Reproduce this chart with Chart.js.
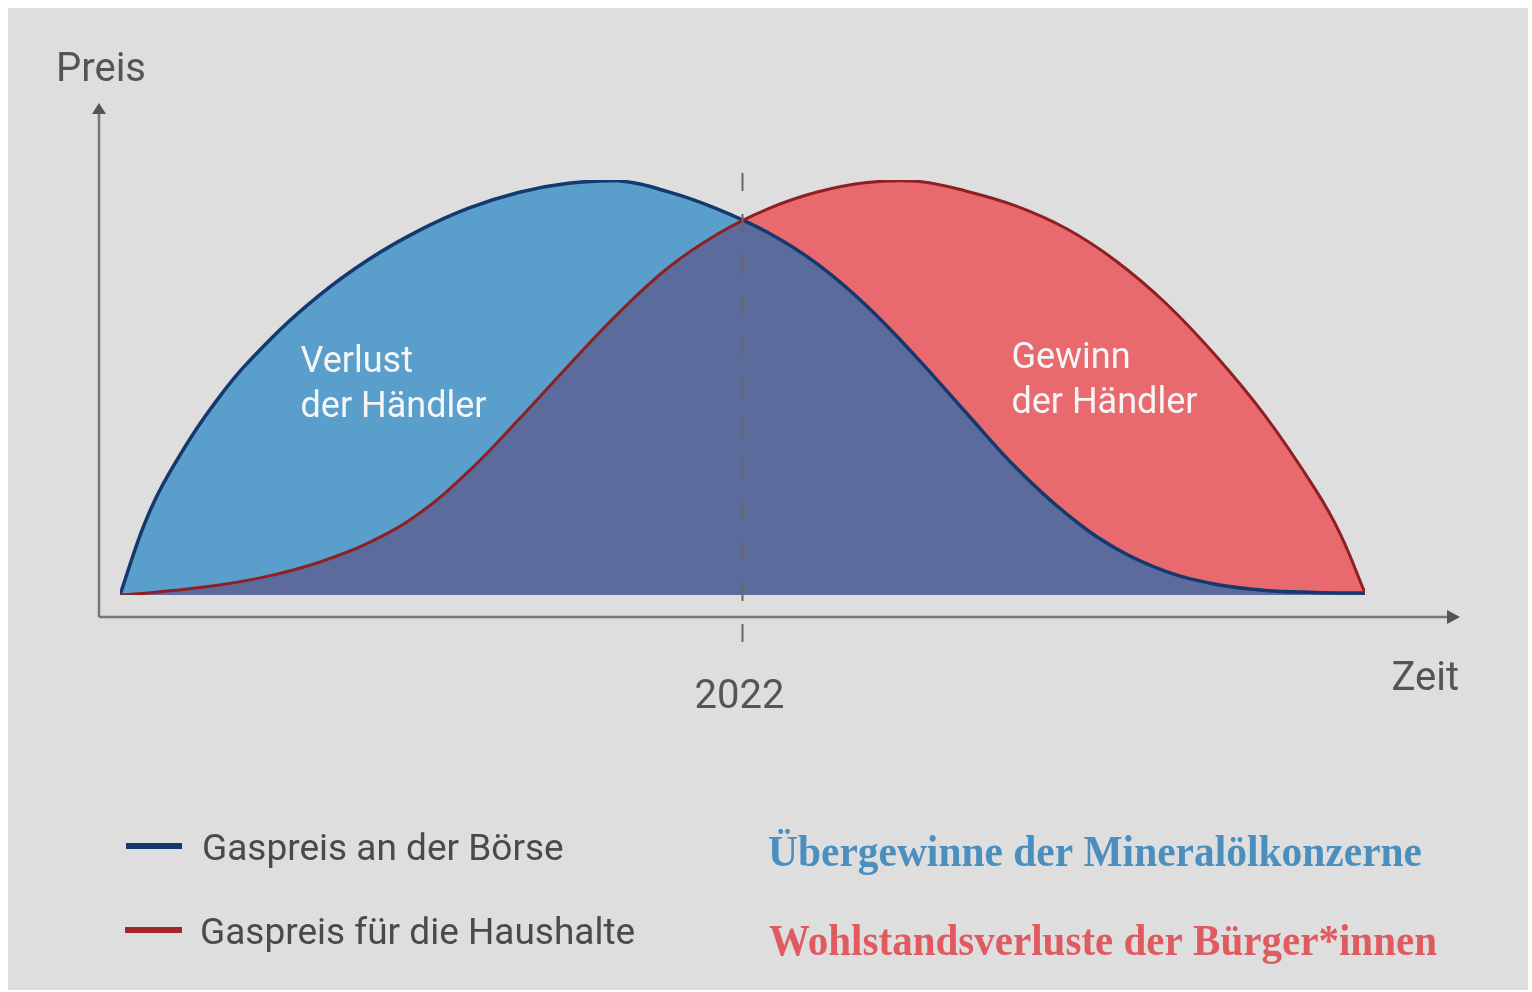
<!DOCTYPE html>
<html lang="de">
<head>
    <meta charset="utf-8">
    <title>Gaspreis an der Börse und für die Haushalte</title>
    <script src="https://cdn.jsdelivr.net/npm/chart.js"></script>
    <style>
        html, body {
            margin: 0;
            padding: 0;
            background: #ffffff;
        }
        .frame {
            position: absolute;
            left: 8px;
            top: 8px;
            width: 1520px;
            height: 982px;
            background: #dedede;
        }
        #gasChart {
            position: absolute;
            left: 0;
            top: 0;
        }
    </style>
</head>
<body>
    <div class="frame"></div>
    <canvas id="gasChart" width="1532" height="992"></canvas>

    <script>
        // Zeitachse (ohne Einheit, 0..100) und die beiden Preiskurven (0..100)
        const zeit = [0, 2, 4, 8, 12, 16, 20, 24, 28, 32, 36, 40, 44, 48,
                      52, 56, 60, 64, 68, 72, 76, 80, 84, 88, 92, 96, 98, 100];
        const gaspreisBoerse = [0, 17.4, 29.6, 47.8, 61.4, 72.2, 80.9, 87.8, 93.2, 97.0, 99.2, 99.8, 97.2, 93.0,
                                87.4, 79.8, 69.6, 57.2, 43.8, 30.6, 19.6, 11.2, 5.7, 2.6, 1.1, 0.6, 0.5, 0.5];
        const gaspreisHaushalte = [0, 0.4, 1.0, 2.4, 4.6, 7.9, 12.6, 19.6, 29.8, 42.2, 55.2, 67.8, 78.8, 87.0,
                                   93.0, 97.1, 99.4, 99.7, 97.3, 93.7, 88.3, 80.5, 70.3, 57.7, 43.1, 25.5, 14.8, 0.5];

        const markerZeit = 50;
        const markerLabel = '2022';

        const serien = ['Gaspreis an der Börse', 'Gaspreis für die Haushalte'];
        const linienFarben = ['#14396e', '#8e1f22'];
        const flaechen = {
            ueberlappung: '#5b6c9c',
            boerse: '#5a9ecb',
            haushalte: '#e86a6e'
        };
        const fazit = ['Übergewinne der Mineralölkonzerne', 'Wohlstandsverluste der Bürger*innen'];
        const fazitFarben = ['#4b8fbf', '#e05b60'];

        const punkte = (ys) => zeit.map((x, i) => ({ x: x, y: ys[i] }));

        // Achsen, Pfeile, Markierung und Beschriftungen
        const dekor = {
            id: 'dekor',
            afterDatasetsDraw(chart) {
                const ctx = chart.ctx;
                const { left, right, top, bottom } = chart.chartArea;
                const sx = chart.scales.x;
                const sy = chart.scales.y;
                const axX = left - 21;
                const axY = bottom + 22;

                ctx.save();

                // Achsen
                ctx.strokeStyle = '#777777';
                ctx.fillStyle = '#555555';
                ctx.lineWidth = 2.5;
                ctx.beginPath();
                ctx.moveTo(axX, axY);
                ctx.lineTo(axX, top - 68);
                ctx.moveTo(axX, axY);
                ctx.lineTo(right + 86, axY);
                ctx.stroke();

                // Pfeilspitzen
                ctx.beginPath();
                ctx.moveTo(axX, top - 77);
                ctx.lineTo(axX - 7, top - 66);
                ctx.lineTo(axX + 7, top - 66);
                ctx.closePath();
                ctx.fill();
                ctx.beginPath();
                ctx.moveTo(right + 95, axY);
                ctx.lineTo(right + 82, axY - 7);
                ctx.lineTo(right + 82, axY + 7);
                ctx.closePath();
                ctx.fill();

                // gestrichelte Linie 2022
                const mx = sx.getPixelForValue(markerZeit);
                ctx.strokeStyle = '#666666';
                ctx.lineWidth = 2;
                ctx.setLineDash([18, 23]);
                ctx.beginPath();
                ctx.moveTo(mx, top - 7);
                ctx.lineTo(mx, axY + 48);
                ctx.stroke();
                ctx.setLineDash([]);

                // Achsentitel
                ctx.fillStyle = '#555555';
                ctx.font = '40px Roboto';
                ctx.textBaseline = 'alphabetic';
                ctx.textAlign = 'left';
                ctx.fillText('Preis', axX - 43, 81);
                ctx.textAlign = 'right';
                ctx.fillText('Zeit', right + 94, axY + 73);
                ctx.textAlign = 'center';
                ctx.fillText(markerLabel, mx - 3, axY + 91);

                // Flächenbeschriftungen
                ctx.fillStyle = '#f6f6f6';
                ctx.font = '36px Roboto';
                ctx.textAlign = 'left';
                const vx = sx.getPixelForValue(14.5);
                const vy = sy.getPixelForValue(53.7);
                ctx.fillText('Verlust', vx, vy);
                ctx.fillText('der Händler', vx, vy + 45);
                const gx = sx.getPixelForValue(71.6);
                const gy = sy.getPixelForValue(54.7);
                ctx.fillText('Gewinn', gx, gy);
                ctx.fillText('der Händler', gx, gy + 45);

                // Legende
                ctx.lineWidth = 6;
                ctx.strokeStyle = linienFarben[0];
                ctx.beginPath();
                ctx.moveTo(126, 846);
                ctx.lineTo(182, 846);
                ctx.stroke();
                ctx.strokeStyle = '#a3262a';
                ctx.beginPath();
                ctx.moveTo(125, 930);
                ctx.lineTo(182, 930);
                ctx.stroke();
                ctx.fillStyle = '#4a4a4a';
                ctx.font = '37px Roboto';
                ctx.fillText(serien[0], 202, 860);
                ctx.fillText(serien[1], 200, 944);

                // Fazit rechts
                ctx.font = 'bold 44px "Liberation Serif"';
                ctx.fillStyle = fazitFarben[0];
                ctx.fillText(fazit[0], 768, 866, 654);
                ctx.fillStyle = fazitFarben[1];
                ctx.fillText(fazit[1], 769, 955, 668);

                ctx.restore();
            }
        };

        new Chart(document.getElementById('gasChart'), {
            type: 'line',
            data: {
                datasets: [{
                    label: serien[0],
                    data: punkte(gaspreisBoerse),
                    borderColor: linienFarben[0],
                    borderWidth: 3.5,
                    backgroundColor: flaechen.ueberlappung,
                    fill: 'origin',
                    order: 2,
                    tension: 0.4
                }, {
                    label: serien[1],
                    data: punkte(gaspreisHaushalte),
                    borderColor: linienFarben[1],
                    borderWidth: 3,
                    fill: { target: 0, above: flaechen.haushalte, below: flaechen.boerse },
                    order: 1,
                    tension: 0.4
                }]
            },
            options: {
                responsive: false,
                animation: false,
                events: [],
                layout: {
                    padding: { left: 120, right: 167, top: 180, bottom: 397 }
                },
                elements: {
                    point: { radius: 0 }
                },
                scales: {
                    x: { type: 'linear', min: 0, max: 100, display: false },
                    y: { min: 0, max: 100, display: false }
                },
                plugins: {
                    legend: { display: false },
                    tooltip: { enabled: false },
                    filler: { drawTime: 'beforeDatasetsDraw' }
                }
            },
            plugins: [dekor]
        });
    </script>
</body>
</html>
